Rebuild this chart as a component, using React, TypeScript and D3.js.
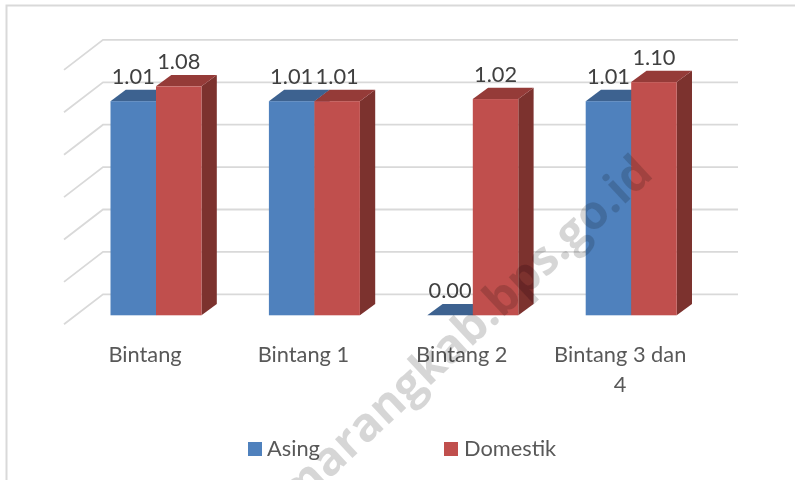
import React from "react";
import * as d3 from "d3";

const categories = ["Bintang", "Bintang 1", "Bintang 2", "Bintang 3 dan 4"];
const seriesNames = ["Asing", "Domestik"];
const asing = [1.01, 1.01, 0.0, 1.01];
const domestik = [1.08, 1.01, 1.02, 1.1];
const gridTicks = [0, 0.2, 0.4, 0.6, 0.8, 1.0, 1.2];
const labelLines = [["Bintang"], ["Bintang 1"], ["Bintang 2"], ["Bintang 3 dan", "4"]];

const FONT = "Lato, Carlito, 'Open Sans', sans-serif";
const FS = 21.8;
const colors = [
  { front: "#4f81bd", top: "#3c6290", side: "#345680" },
  { front: "#c0504d", top: "#953a38", side: "#7c302e" },
];
const DX = 15.3;
const DY = 11.4;

export default function App() {
  const y = d3.scaleLinear().domain([0, 1.2]).range([315.3, 60.9]);
  const x0 = d3
    .scaleBand<string>()
    .domain(categories)
    .range([76.8, 710.4])
    .paddingInner(0.4255)
    .paddingOuter(0.21275);
  const x1 = d3.scaleBand<string>().domain(seriesNames).range([0, x0.bandwidth()]);
  const w = x1.bandwidth();
  const series = [asing, domestik];
  const fmt = d3.format(".2f");

  return (
    <svg
      width={795}
      height={480}
      style={{ position: "absolute", left: 0, top: 0, background: "#fff" }}
    >
      <defs>
        <filter id="soft" x="-2%" y="-2%" width="104%" height="104%">
          <feGaussianBlur stdDeviation={0.4} />
        </filter>
      </defs>
      <g filter="url(#soft)">
        <path d="M6.5 480 V5.5 H795" fill="none" stroke="#d9d9d9" strokeWidth={2} />

        {gridTicks.map((t) => {
          const gy = y(t) - 21;
          return (
            <path
              key={t}
              d={`M64 ${gy + 30} L103 ${gy} H738`}
              fill="none"
              stroke="#d9d9d9"
              strokeWidth={1.8}
            />
          );
        })}

        {categories.map((c, i) => (
          <g key={c}>
            {series.map((vals, s) => {
              const left = (x0(c) ?? 0) + (x1(seriesNames[s]) ?? 0);
              const right = left + w;
              const top = y(vals[i]);
              const base = y(0);
              const col = colors[s];
              return (
                <g key={s}>
                  <path
                    d={`M${right} ${top} l${DX} ${-DY} V${base - DY} L${right} ${base} Z`}
                    fill={col.side}
                  />
                  <path
                    d={`M${left} ${top} l${DX} ${-DY} H${right + DX} L${right} ${top} Z`}
                    fill={col.top}
                  />
                  <rect x={left} y={top} width={w} height={base - top} fill={col.front} />
                </g>
              );
            })}
          </g>
        ))}

        {categories.map((c, i) =>
          series.map((vals, s) => {
            const left = (x0(c) ?? 0) + (x1(seriesNames[s]) ?? 0);
            return (
              <text
                key={`${c}${s}`}
                x={left + w / 2}
                y={y(vals[i]) - 17.5}
                textAnchor="middle"
                fontFamily={FONT}
                fontSize={FS}
                fill="#404040"
              >
                {fmt(vals[i])}
              </text>
            );
          })
        )}

        {categories.map((c, i) => (
          <text key={c} textAnchor="middle" fontFamily={FONT} fontSize={FS} fill="#595959">
            {labelLines[i].map((line, k) => (
              <tspan key={k} x={(x0(c) ?? 0) + x0.bandwidth() / 2 - 11} y={362 + k * 30}>
                {line}
              </tspan>
            ))}
          </text>
        ))}

        <rect x={248} y={442} width={14} height={14} fill={colors[0].front} />
        <text x={267} y={455.5} fontFamily={FONT} fontSize={FS} fill="#595959">
          {seriesNames[0]}
        </text>
        <rect x={444} y={442} width={14} height={14} fill={colors[1].front} />
        <text x={464} y={455.5} fontFamily={FONT} fontSize={FS} fill="#595959">
          {seriesNames[1]}
        </text>

        <text
          transform="translate(655,176) rotate(-43)"
          textAnchor="end"
          fontFamily="'Open Sans', sans-serif"
          fontWeight={700}
          fontSize={47}
          fill="#000"
          fillOpacity={0.16}
        >
          semarangkab.bps.go.id
        </text>
      </g>
    </svg>
  );
}
